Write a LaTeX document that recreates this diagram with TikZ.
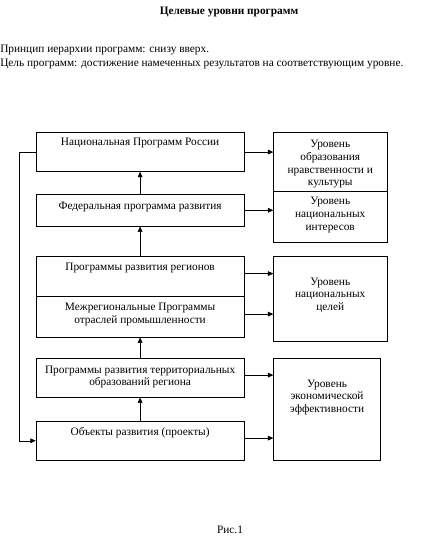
\documentclass[tikz,border=0pt]{standalone}
\usepackage{fontspec}
\setmainfont{Liberation Serif}
\usetikzlibrary{arrows.meta,positioning}

\begin{document}
\begin{tikzpicture}[x=0.75pt, y=-0.75pt, >={Triangle[length=4pt,width=3.5pt]},
    font=\fontsize{8.5}{10.5}\selectfont,
    prog/.style={draw, rectangle, anchor=north west, inner sep=0pt, minimum width=156.2pt},
    lvl/.style={draw, rectangle, anchor=north west, inner sep=0pt, minimum width=85pt},
    lbl/.style={inner sep=0pt, align=center, font=\fontsize{8.5}{9.5}\selectfont}]
		\useasboundingbox (0,0) rectangle (423,545);
		% header
		\node[font=\fontsize{8.5}{10.5}\selectfont\bfseries] (title) at (229,12) {Целевые уровни программ};
		\node[anchor=west, inner sep=0pt] (rule1) at (0,50) {Принцип иерархии программ: снизу вверх.};
		\node[anchor=west, inner sep=0pt] (rule2) at (0,64) {Цель программ: достижение намеченных результатов на соответствующим уровне.};
		% programs (left column)
		\node[prog, minimum height=29.25pt] (nat) at (35.7,132.3) {};
		\node[prog, minimum height=24pt] (fed) at (35.7,194) {};
		\node[prog, minimum height=30pt] (reg) at (35.7,256) {};
		\node[prog, minimum height=30.75pt] (inter) at (35.7,296) {};
		\node[prog, minimum height=29.25pt] (terr) at (35.7,358) {};
		\node[prog, minimum height=29.25pt] (obj) at (35.7,421) {};
		\node[lbl, below=4pt of nat.north] (natT) {Национальная Программ России};
		\node[lbl, below=6pt of fed.north] (fedT) {Федеральная программа развития};
		\node[lbl, below=5pt of reg.north] (regT) {Программы развития регионов};
		\node[lbl, below=5pt of inter.north] (interT) {Межрегиональные Программы\\отраслей промышленности};
		\node[lbl, below=5.5pt of terr.north] (terrT) {Программы развития территориальных\\образований региона};
		\node[lbl, below=4.5pt of obj.north] (objT) {Объекты развития (проекты)};
		% levels (right column)
		\node[lvl, minimum height=44.25pt] (culture) at (273.3,132.3) {};
		\node[lvl, minimum height=38.25pt] (interest) at (273.3,191) {};
		\node[lvl, minimum height=63.75pt] (goals) at (273.3,256) {};
		\node[lvl, minimum width=80.25pt, minimum height=76.5pt] (econ) at (273.3,358) {};
		\node[lbl, below=6pt of culture.north] (cultureT) {Уровень\\образования\\нравственности и\\культуры};
		\node[lbl, below=4.5pt of interest.north] (interestT) {Уровень\\национальных\\интересов};
		\node[lbl, below=16pt of goals.north] (goalsT) {Уровень\\национальных\\целей};
		\node[lbl, below=16pt of econ.north] (econT) {Уровень\\экономической\\эффективности};
		% hierarchy, bottom up
		\draw[->] (fed.north) -- (nat.south);
		\draw[->] (reg.north) -- (fed.south);
		\draw[->] (terr.north) -- (inter.south);
		\draw[->] (obj.north) -- (terr.south);
		% programs to levels
		\draw[->] (nat.east) -- (nat.east -| culture.west);
		\draw[->] (fed.east) -- (fed.east -| interest.west);
		\draw[->] ([yshift=2pt]reg.east) -- ([yshift=2pt]reg.east -| goals.west);
		\draw[->] ([yshift=2pt]inter.east) -- ([yshift=2pt]inter.east -| goals.west);
		\draw[->] ([yshift=2pt]terr.east) -- ([yshift=2pt]terr.east -| econ.west);
		\draw[->] ([yshift=2pt]obj.east) -- ([yshift=2pt]obj.east -| econ.west);
		% feedback line
		\draw[->] (nat.west) -- ++(-16.7,0) |- (obj.west);
		\node (fig) at (230,530) {Рис.1};
	\end{tikzpicture}
\end{document}
